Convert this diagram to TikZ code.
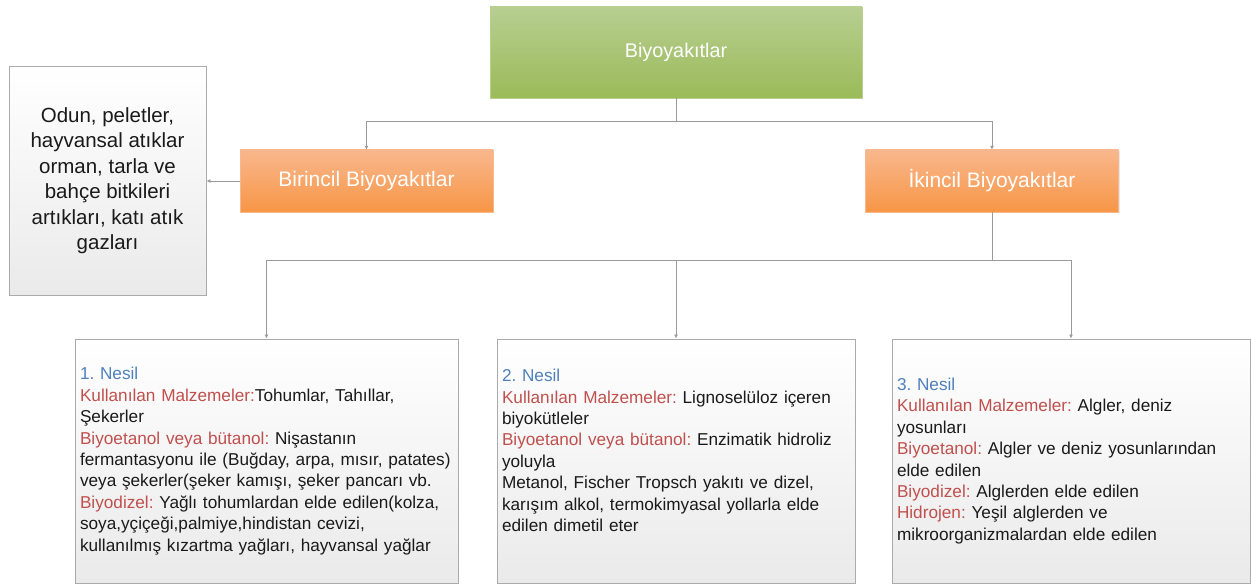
\documentclass[tikz,border=0pt]{standalone}
\usepackage{fontspec}
\setmainfont{Liberation Sans}
\usetikzlibrary{arrows.meta,positioning,shadows}
\definecolor{diagramText}{HTML}{1A1A1A}
\definecolor{diagramLine}{HTML}{9A9A9A}
\definecolor{diagramBorder}{HTML}{ABABAB}
\definecolor{rootTop}{HTML}{B7CE91}
\definecolor{rootBottom}{HTML}{9BBB59}
\definecolor{kindTop}{HTML}{F9B78D}
\definecolor{kindBottom}{HTML}{F79646}
\definecolor{paneTop}{HTML}{FFFFFF}
\definecolor{paneBottom}{HTML}{EAEAEA}
\definecolor{nesilColor}{HTML}{4F81BD}
\definecolor{termColor}{HTML}{C0504D}
\newcommand{\nesil}[1]{\textcolor{nesilColor}{#1}}
\newcommand{\term}[1]{\textcolor{termColor}{#1}}
\frenchspacing

\begin{document}
\begin{tikzpicture}[
  x=1pt, y=-1pt,
  >={Latex[length=4pt,width=4pt]},
  block/.style={
    rectangle,
    inner sep=0pt,
    drop shadow={opacity=0.18, shadow xshift=1pt, shadow yshift=-1.2pt},
  },
  root/.style={block, draw=rootBottom!70, top color=rootTop, bottom color=rootBottom,
    text=white, font=\fontsize{19.8}{23}\selectfont,
    minimum width=372pt, minimum height=91pt},
  kind/.style={block, draw=kindTop, top color=kindTop, bottom color=kindBottom,
    text=white, font=\fontsize{21}{24}\selectfont,
    minimum width=253pt, minimum height=62pt},
  pane/.style={block, draw=diagramBorder, line width=0.9pt, top color=paneTop, bottom color=paneBottom,
    text=diagramText},
  source/.style={pane, align=center, font=\fontsize{20.5}{25.5}\selectfont,
    minimum width=197pt, minimum height=229pt},
  nesilbox/.style={pane, align=left, inner xsep=5pt, font=\fontsize{17.2}{21.4}\selectfont,
    minimum height=244pt},
  flow/.style={->, draw=diagramLine, line width=0.9pt}
]
\useasboundingbox (0,0) rectangle (1251,585);

\node[root] (root) at (676,52.5) {Biyoyakıtlar};
\node[kind] (birincil) at (366.5,181) {Birincil Biyoyakıtlar};
\node[kind] (ikincil) at (992,181) {İkincil Biyoyakıtlar};
\node[source] (odun) at (107.5,180.5) {Odun, peletler,\\hayvansal atıklar\\orman, tarla ve\\bahçe bitkileri\\artıkları, katı atık\\gazları};

\node[nesilbox, text width=373pt] (nesil1) at (266.5,461) {%
\nesil{1. Nesil}\\
\term{Kullanılan Malzemeler:}Tohumlar, Tahıllar,\\
Şekerler\\
\term{Biyoetanol veya bütanol:} Nişastanın\\
fermantasyonu ile (Buğday, arpa, mısır, patates)\\
veya şekerler(şeker kamışı, şeker pancarı vb.\\
\term{Biyodizel:} Yağlı tohumlardan elde edilen(kolza,\\
soya,yçiçeği,palmiye,hindistan cevizi,\\
kullanılmış kızartma yağları, hayvansal yağlar};

\node[nesilbox, text width=348pt] (nesil2) at (676,461) {%
\nesil{2. Nesil}\\
\term{Kullanılan Malzemeler:} Lignoselüloz içeren\\
biyokütleler\\
\term{Biyoetanol veya bütanol:} Enzimatik hidroliz\\
yoluyla\\
Metanol, Fischer Tropsch yakıtı ve dizel,\\
karışım alkol, termokimyasal yollarla elde\\
edilen dimetil eter\\
\mbox{}};

\node[nesilbox, text width=348pt] (nesil3) at (1071,461) {%
\nesil{3. Nesil}\\
\term{Kullanılan Malzemeler:} Algler, deniz\\
yosunları\\
\term{Biyoetanol:} Algler ve deniz yosunlarından\\
elde edilen\\
\term{Biyodizel:} Alglerden elde edilen\\
\term{Hidrojen:} Yeşil alglerden ve\\
mikroorganizmalardan elde edilen};

% upper branch
\coordinate (upper) at (676,121);
\draw[draw=diagramLine, line width=0.9pt] (root.south) -- (upper);
\draw[flow] (upper) -| (birincil.north);
\draw[flow] (upper) -| (ikincil.north);
\draw[flow] (birincil.west) -- (birincil.west -| odun.east);

% lower branch
\coordinate (lower) at (992,260);
\draw[draw=diagramLine, line width=0.9pt] (ikincil.south) -- (lower);
\draw[flow] (lower) -| (nesil1.north);
\draw[flow] (lower) -| (nesil2.north);
\draw[flow] (lower) -| (nesil3.north);

\end{tikzpicture}
\end{document}
